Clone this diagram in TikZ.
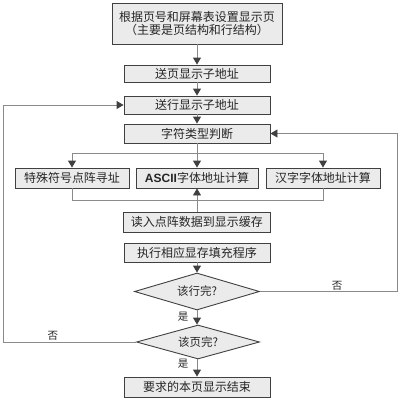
\documentclass[tikz,border=0pt]{standalone}
\usepackage{fontspec}
\setmainfont{Noto Sans CJK SC}
\newfontfamily\latinb{Liberation Sans}
\usetikzlibrary{shapes.geometric,arrows.meta}
\definecolor{boxfill}{HTML}{EBEBEB}
\definecolor{boxdraw}{HTML}{404040}
\definecolor{linegray}{HTML}{8A8A8A}
\definecolor{tipc}{HTML}{404040}
\tikzset{
  box/.style={draw=boxdraw, fill=boxfill, line width=0.9pt, inner sep=0pt,
    minimum height=18pt, font=\fontsize{12}{13.5}\selectfont, text=black!85},
  dia/.style={draw=boxdraw, fill=boxfill, line width=0.9pt, shape=diamond, inner sep=0pt,
    font=\fontsize{11.5}{13}\selectfont, text=black!85},
  conn/.style={draw=linegray, line width=0.9pt},
  arr/.style={conn, -{Triangle[width=8pt,length=7pt,color=tipc]}},
  lbl/.style={font=\fontsize{10.5}{12}\selectfont, text=black!85, inner sep=0pt}
}
\begin{document}
\begin{tikzpicture}[x=1pt,y=-1pt]
\useasboundingbox (0,0) rectangle (400,400);
\node[box, minimum width=170pt, minimum height=41pt, align=center] (b1) at (197,23.5)
  {根据页号和屏幕表设置显示页\\（主要是页结构和行结构）};
\node[box, minimum width=146pt, minimum height=17pt] (b2) at (197,73.5) {送页显示子地址};
\node[box, minimum width=146pt] (b3) at (197,105) {送行显示子地址};
\node[box, minimum width=146pt, minimum height=19pt] (b4) at (197,133.5) {字符类型判断};
\node[box, minimum width=114pt, minimum height=20pt] (sl) at (72,178) {特殊符号点阵寻址};
\node[box, minimum width=122pt, minimum height=20pt] (sm) at (197,178) {{\latinb\bfseries ASCII}字体地址计算};
\node[box, minimum width=114pt, minimum height=20pt] (sr) at (323,178) {汉字字体地址计算};
\node[box, minimum width=147pt, minimum height=20pt] (b5) at (197,222) {读入点阵数据到显示缓存};
\node[box, minimum width=146pt, minimum height=19pt] (b6) at (197,252.5) {执行相应显存填充程序};
\node[dia, minimum width=125pt, minimum height=37pt, aspect=3.4] (d1) at (197,291.5) {该行完?};
\node[dia, minimum width=123pt, minimum height=34pt, aspect=3.6] (d2) at (198,342) {该页完?};
\node[box, minimum width=146pt, minimum height=20pt] (b7) at (197,387) {要求的本页显示结束};

\coordinate (bl) at (72,153);
\coordinate (br) at (323,153);
\coordinate (jl) at (72,200);
\coordinate (jr) at (323,200);
\coordinate (L) at (3,342);
\coordinate (R) at (397,291.5);

\draw[arr] (b1) -- (b2);
\draw[arr] (b2) -- (b3);
\draw[arr] (b3) -- (b4);
\draw[arr] (b4) -- (sm);
\draw[conn] (bl) -- (br);
\draw[arr] (bl) -- (sl);
\draw[arr] (br) -- (sr);
\draw[conn] (sl) -- (jl) -- (jr) -- (sr);
\draw[arr] (b5) -- (sm);
\draw[arr] (b6) -- (d1);
\draw[arr] (d1.south) -- (d1.south |- d2.north);
\draw[arr] (d2.south -| b7) -- (b7);
\draw[arr] (d2.west) -- (L) |- (b3.west);
\draw[arr] (d1.east) -- (R) |- (b4.east);

\node[lbl] (y1) at (183,317) {是};
\node[lbl] (y2) at (183,364) {是};
\node[lbl] (n1) at (337,286) {否};
\node[lbl] (n2) at (53,336) {否};
\end{tikzpicture}
\end{document}
